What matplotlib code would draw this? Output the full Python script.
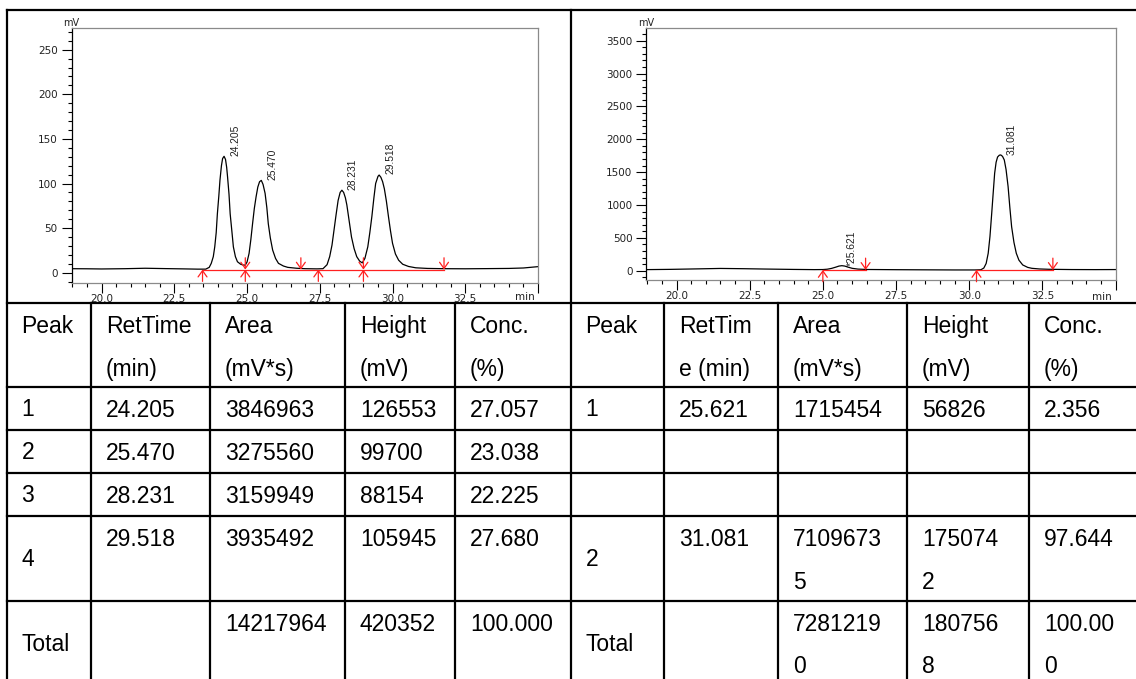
import matplotlib.pyplot as plt
from matplotlib.ticker import MultipleLocator

plt.rcParams['font.family'] = ['Liberation Sans', 'DejaVu Sans']

# ---- chromatogram traces (min, mV) ----
t_left = [18.97, 19.5, 20.0, 20.8, 21.5, 22.2, 22.8, 23.3, 23.58, 23.70, 23.77, 23.84, 23.89,
          23.94, 23.98, 24.03, 24.07, 24.12, 24.16, 24.21, 24.26, 24.30, 24.33, 24.38, 24.42,
          24.48, 24.53, 24.60, 24.67, 24.78, 24.88, 24.94, 25.00, 25.07, 25.13, 25.19, 25.25,
          25.31, 25.37, 25.43, 25.49, 25.55, 25.62, 25.68, 25.73, 25.80, 25.88, 25.98, 26.08,
          26.25, 26.40, 26.7, 27.0, 27.4, 27.61, 27.75, 27.84, 27.92, 27.99, 28.06, 28.13,
          28.20, 28.26, 28.32, 28.38, 28.43, 28.51, 28.59, 28.68, 28.77, 28.87, 28.96, 29.05,
          29.15, 29.22, 29.29, 29.36, 29.42, 29.50, 29.54, 29.60, 29.66, 29.72, 29.79, 29.86,
          29.93, 30.00, 30.10, 30.21, 30.35, 30.55, 30.80, 31.2, 31.8, 32.5, 33.3, 34.0,
          34.5, 35.0]
mv_left = [4.5, 4.4, 4.2, 4.5, 5.0, 4.6, 4.3, 4.0, 4.0, 6.0, 10.5, 18, 29,
           45, 66, 86, 104, 120, 128, 130.5, 127, 118, 107.5, 88, 66,
           46, 29, 18, 12.3, 9.5, 8.5, 8.6, 12, 21.7, 37, 55, 72,
           85, 96, 102, 103.5, 99, 89, 73, 55, 39, 25.4, 16, 10.5,
           7.5, 6, 5, 4.5, 4.3, 4.5, 9, 18, 31, 48, 65, 81,
           90, 92.5, 90, 84, 76, 58, 40, 27, 18, 13, 11, 16,
           29, 45, 63, 84, 100, 108, 109.5, 107, 102, 94, 80, 63,
           47, 33, 21, 14, 9.5, 7, 5.5, 4.8, 4.5, 4.4, 4.6, 4.8,
           5.3, 6.8]

t_right = [18.97, 19.8, 20.8, 21.5, 22.3, 23.0, 24.0, 24.7, 25.0, 25.15, 25.3, 25.45, 25.55,
           25.65, 25.75, 25.85, 26.0, 26.2, 26.5, 27.5, 28.5, 29.5, 30.2, 30.40, 30.50,
           30.58, 30.65, 30.71, 30.77, 30.82, 30.87, 30.92, 30.97, 31.03, 31.08, 31.14,
           31.20, 31.26, 31.33, 31.39, 31.45, 31.53, 31.61, 31.70, 31.83, 32.0, 32.14,
           32.4, 32.72, 33.5, 34.3, 35.0]
mv_right = [16, 20, 28, 34, 30, 25, 19, 16, 17, 22, 35, 55, 70,
            76, 70, 55, 36, 24, 18, 15, 13, 11, 11, 14, 40,
            110, 265, 520, 873, 1180, 1482, 1650, 1730, 1758, 1762, 1740,
            1685, 1540, 1279, 960, 670, 430, 265, 160, 87, 50, 36,
            26, 21, 17, 16, 17]

# ---- peak tables ----
rt_left = ['24.205', '25.470', '28.231', '29.518']
area_left = ['3846963', '3275560', '3159949', '3935492']
height_left = ['126553', '99700', '88154', '105945']
conc_left = ['27.057', '23.038', '22.225', '27.680']
total_left = ['14217964', '420352', '100.000']

rt_right = ['25.621', '31.081']
area_right = ['1715454', '71096735']
height_right = ['56826', '1750742']
conc_right = ['2.356', '97.644']
total_right = ['72812190', '1807568', '100.000']

# integration marks (min)
left_up = [23.47, 27.45]
left_down = [26.85, 31.77]
left_both = [24.94, 29.0]
right_up = [25.0, 30.25]
right_down = [26.46, 32.86]

W, H = 1136, 679
fig = plt.figure(figsize=(W / 100, H / 100), dpi=100)
bg = fig.add_axes([0, 0, 1, 1])
bg.set_xlim(0, W)
bg.set_ylim(H, 0)
bg.axis('off')


def arrow(ax, t, base, up):
    off = -8.5 if up else 8.5
    ax.annotate('', xy=(t, base), xytext=(0, off), textcoords='offset points',
                arrowprops=dict(arrowstyle='->,head_width=0.32,head_length=0.45',
                                color='#ff2020', lw=0.9, shrinkA=0, shrinkB=0))


def chromatogram(box, t, mv, ylim, ymaj, ymin, peaks, heights, base, dx, names,
                 ups, downs, both, segs):
    x0, y0, x1, y1 = box
    ax = fig.add_axes([x0 / W, 1 - y1 / H, (x1 - x0) / W, (y1 - y0) / H])
    ax.plot(t, mv, color='black', lw=0.9)
    for a, b in segs:
        ax.plot([a, b], [base, base], color='#ff2020', lw=0.9)
    for x in ups + both:
        arrow(ax, x, base, True)
    for x in downs + both:
        arrow(ax, x, base, False)
    for rt, h, name in zip(peaks, heights, names):
        ax.text(float(rt) + dx, int(h) / 1000 + base + 1, name, rotation=90,
                ha='center', va='bottom', fontsize=7.4, color='#222222')
    ax.set_xlim(18.97, 35.0)
    ax.set_ylim(*ylim)
    ax.set_xticks([20, 22.5, 25, 27.5, 30, 32.5, 35])
    ax.set_xticklabels(['20.0', '22.5', '25.0', '27.5', '30.0', '32.5', ''])
    ax.xaxis.set_minor_locator(MultipleLocator(0.5))
    ax.yaxis.set_major_locator(MultipleLocator(ymaj))
    ax.yaxis.set_minor_locator(MultipleLocator(ymin))
    ax.tick_params(which='major', direction='out', length=7, width=0.8,
                   labelsize=7.5, labelfontfamily='DejaVu Sans', labelcolor='#222222')
    ax.tick_params(which='minor', direction='out', length=3, width=0.8)
    ax.tick_params(axis='x', pad=1)
    ax.tick_params(axis='y', pad=3)
    for s in ['top', 'right', 'bottom']:
        ax.spines[s].set_color('#8a8a8a')
        ax.spines[s].set_linewidth(0.9)
    ax.spines['left'].set_linewidth(0.9)
    hpx = y1 - y0
    ax.text(34.55, -(296.5 - y1) / hpx, 'min', transform=ax.get_xaxis_transform(),
            ha='center', va='center', fontsize=7.5, family='DejaVu Sans', color='#222222')
    ax.text(0, 1 + (y0 - 22.5) / hpx, 'mV', transform=ax.transAxes,
            ha='center', va='center', fontsize=7, family='DejaVu Sans', color='#222222')
    return ax


chromatogram((71.6, 28.3, 538, 282.7), t_left, mv_left, (-11.2, 274), 50, 10,
             rt_left, height_left, 3.5, 0.4, rt_left,
             left_up, left_down, left_both, [(23.47, 31.77)])
chromatogram((646.4, 28.3, 1115.5, 280), t_right, mv_right, (-142, 3690), 500, 100,
             rt_right, height_right, 11, 0.37, ['*' + rt_right[0], rt_right[1]],
             right_up, right_down, [], [(25.0, 26.46), (30.25, 32.86)])

# ---- table grid ----
lw = 1.6
rows_y = [303, 387, 429.5, 472.5, 516, 600.5, 686]
bg.plot([6.5, W + 5], [10, 10], color='black', lw=lw)
for y in rows_y[:-1]:
    bg.plot([6.5, W + 5], [y, y], color='black', lw=lw)
for x in [6.5, 570.5]:
    bg.plot([x, x], [10, H + 5], color='black', lw=lw)
cols_left = [6.5, 91, 210, 345, 455]
cols_right = [570.5, 664, 778, 907, 1029]
for x in cols_left[1:] + cols_right[1:]:
    bg.plot([x, x], [303, H + 5], color='black', lw=lw)

fs = 16.5
cap = 8.2


def cell(cols, ci, ri, lines, center=False):
    x = cols[ci] + 15
    top, bot = rows_y[ri], rows_y[ri + 1]
    if center:
        bg.text(x, (top + bot) / 2 + cap, lines[0], fontsize=fs, va='baseline')
        return
    for k, s in enumerate(lines):
        bg.text(x, top + 22 + 42.5 * k + cap, s, fontsize=fs, va='baseline')


def chunks(s, n):
    return [s[i:i + n] for i in range(0, len(s), n)]


hdr_left = [['Peak'], ['RetTime', '(min)'], ['Area', '(mV*s)'], ['Height', '(mV)'], ['Conc.', '(%)']]
hdr_right = [['Peak'], ['RetTim', 'e (min)'], ['Area', '(mV*s)'], ['Height', '(mV)'], ['Conc.', '(%)']]
for ci in range(5):
    cell(cols_left, ci, 0, hdr_left[ci])
    cell(cols_right, ci, 0, hdr_right[ci])

for i in range(4):
    r = i + 1
    cell(cols_left, 0, r, [str(i + 1)], center=True)
    cell(cols_left, 1, r, [rt_left[i]])
    cell(cols_left, 2, r, [area_left[i]])
    cell(cols_left, 3, r, [height_left[i]])
    cell(cols_left, 4, r, [conc_left[i]])
cell(cols_left, 0, 5, ['Total'], center=True)
for ci, v in zip([2, 3, 4], total_left):
    cell(cols_left, ci, 5, [v])

widths_right = [6, 7, 6, 6]
for i, r in enumerate([1, 4]):
    cell(cols_right, 0, r, [str(i + 1)], center=True)
    vals = [rt_right[i], area_right[i], height_right[i], conc_right[i]]
    for ci in range(4):
        cell(cols_right, ci + 1, r, chunks(vals[ci], widths_right[ci]))
cell(cols_right, 0, 5, ['Total'], center=True)
for ci, v in zip([2, 3, 4], total_right):
    cell(cols_right, ci, 5, chunks(v, widths_right[ci - 1]))

fig.savefig('out.png', dpi=100)
